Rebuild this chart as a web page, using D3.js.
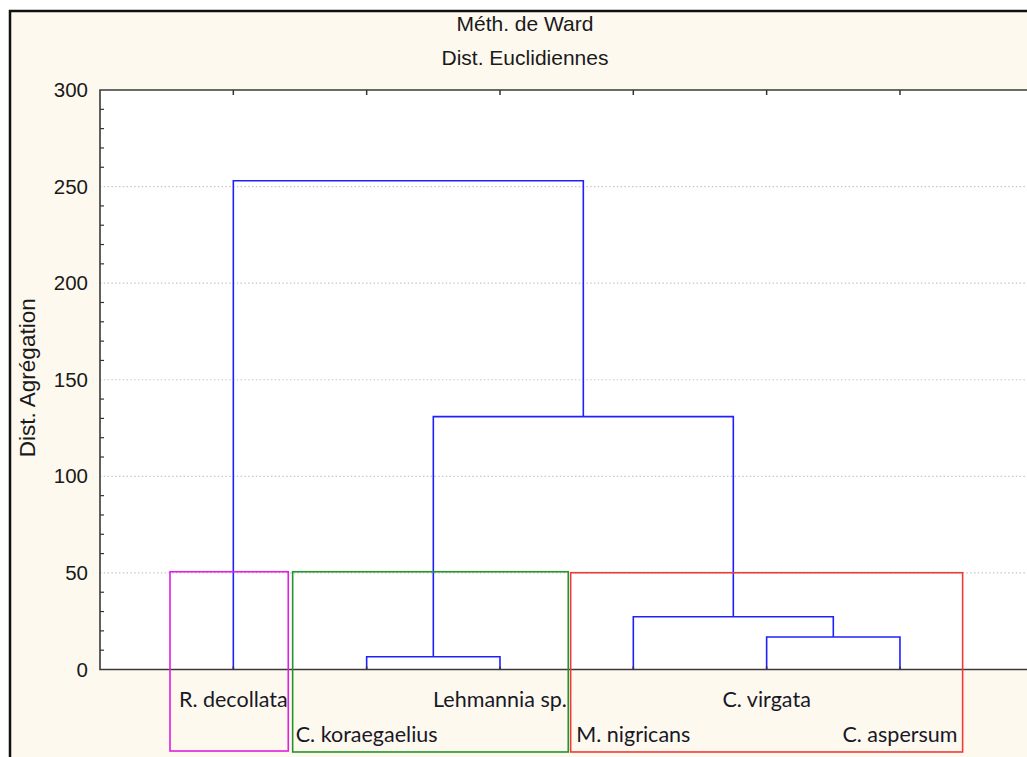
<!DOCTYPE html>
<html>
<head>
<meta charset="utf-8">
<script src="https://cdn.jsdelivr.net/npm/d3@7"></script>
<style>
  html, body { margin: 0; padding: 0; background: #ffffff; }
  svg { display: block; }
</style>
</head>
<body>
<svg id="chart" width="1027" height="757"></svg>
<script>
// Leaves in display order
const leafNames = ["R. decollata", "C. koraegaelius", "Lehmannia sp.", "M. nigricans", "C. virgata", "C. aspersum"];

// Ward linkage: [child A, child B, aggregation distance]; new clusters numbered from leafNames.length
const mergeA = [1, 4, 3, 6, 0];
const mergeB = [2, 5, 7, 8, 9];
const mergeHeight = [6.6, 16.8, 27.3, 130.9, 253.0];

// Cluster boxes cut at distance ~50: colour, span in leaf units, top distance
const boxColors = ["#e01fe0", "#24952a", "#f03a3a"];
const boxFrom = [0.525, 1.445, 3.53];
const boxTo = [1.412, 3.512, 6.47];
const boxTop = [50.6, 50.6, 50.1];
const boxBottom = [-42.2, -42.7, -42.7];

const yTicks = [0, 50, 100, 150, 200, 250, 300];
const titleLines = ["Méth. de Ward", "Dist. Euclidiennes"];
const yTitle = "Dist. Agrégation";

const svg = d3.select("#chart");
const W = 1027, H = 757;
const plot = { left: 100, top: 90, bottom: 669.5, right: 1033.3 };

const x = d3.scaleLinear().domain([0, leafNames.length + 1]).range([plot.left, plot.right]);
const y = d3.scaleLinear().domain([0, 300]).range([plot.bottom, plot.top]);

// Outer panel
svg.append("rect").attr("x", 10).attr("y", 10).attr("width", W).attr("height", H)
  .attr("fill", "#fef9ef");
svg.append("path").attr("d", `M10,${H} V11 H${W}`)
  .attr("fill", "none").attr("stroke", "#111").attr("stroke-width", 2.5);

// Plot area
svg.append("rect").attr("x", plot.left).attr("y", plot.top)
  .attr("width", plot.right - plot.left).attr("height", plot.bottom - plot.top)
  .attr("fill", "#ffffff");

// Dotted horizontal grid
svg.append("g").selectAll("line").data(yTicks.filter(d => d > 0 && d < 300)).join("line")
  .attr("x1", plot.left).attr("x2", plot.right)
  .attr("y1", d => y(d)).attr("y2", d => y(d))
  .attr("stroke", "#c4c4c4").attr("stroke-width", 1.2).attr("stroke-dasharray", "1.4,2.4");

// Left axis with labels and inner minor ticks
const yAxis = d3.axisLeft(y).tickValues(yTicks).tickSize(0).tickPadding(12);
const gy = svg.append("g").attr("transform", `translate(${plot.left},0)`).call(yAxis);
gy.select(".domain").remove();
gy.selectAll("text").attr("font-family", "'Liberation Sans', Arial, sans-serif")
  .attr("font-size", 20.5).attr("fill", "#1a1a1a");

const minor = d3.range(0, 301, 10).filter(v => v % 50 !== 0);
svg.append("g").selectAll("line").data(minor).join("line")
  .attr("x1", plot.left).attr("x2", plot.left + 4)
  .attr("y1", d => y(d)).attr("y2", d => y(d))
  .attr("stroke", "#333").attr("stroke-width", 1.2);

// Leaf ticks on top and bottom frame
const leafIdx = d3.range(leafNames.length);
svg.append("g").selectAll("line").data(leafIdx).join("line")
  .attr("x1", d => x(d + 1)).attr("x2", d => x(d + 1))
  .attr("y1", plot.top).attr("y2", plot.top + 5)
  .attr("stroke", "#333").attr("stroke-width", 1.5);

// Frame lines
svg.append("path")
  .attr("d", `M${plot.right},${plot.top} H${plot.left} V${plot.bottom} H${plot.right}`)
  .attr("fill", "none").attr("stroke", "#3a3a3a").attr("stroke-width", 1.6);

// Build dendrogram node positions
const nodeX = leafIdx.map(i => x(i + 1));
const nodeH = leafIdx.map(() => 0);
const links = [];
mergeA.forEach((a, k) => {
  const b = mergeB[k], h = mergeHeight[k];
  links.push({ x1: nodeX[a], h1: nodeH[a], x2: nodeX[b], h2: nodeH[b], h });
  nodeX.push((nodeX[a] + nodeX[b]) / 2);
  nodeH.push(h);
});

svg.append("g").selectAll("path").data(links).join("path")
  .attr("d", d => `M${d.x1},${y(d.h1)} V${y(d.h)} H${d.x2} V${y(d.h2)}`)
  .attr("fill", "none").attr("stroke", "#2020ff").attr("stroke-width", 1.6);

// Bottom leaf ticks
svg.append("g").selectAll("line").data(leafIdx).join("line")
  .attr("x1", d => x(d + 1)).attr("x2", d => x(d + 1))
  .attr("y1", plot.bottom).attr("y2", plot.bottom - 3)
  .attr("stroke", "#333").attr("stroke-width", 1.5);

// Cluster boxes
svg.append("g").selectAll("rect").data(boxColors).join("rect")
  .attr("x", (c, i) => x(boxFrom[i]))
  .attr("y", (c, i) => y(boxTop[i]))
  .attr("width", (c, i) => x(boxTo[i]) - x(boxFrom[i]))
  .attr("height", (c, i) => y(boxBottom[i]) - y(boxTop[i]))
  .attr("fill", "none").attr("stroke", c => c).attr("stroke-width", 1.6);

// Leaf labels, alternating rows
svg.append("g").selectAll("text").data(leafNames).join("text")
  .attr("x", (d, i) => x(i + 1))
  .attr("y", (d, i) => i % 2 === 0 ? 706.5 : 741.5)
  .attr("text-anchor", "middle")
  .attr("font-family", "Lato, 'Open Sans', sans-serif")
  .attr("font-size", 21.5)
  .attr("fill", "#181826")
  .text(d => d);

// Titles
svg.append("g").selectAll("text").data(titleLines).join("text")
  .attr("x", 525).attr("y", (d, i) => 31 + i * 34)
  .attr("text-anchor", "middle")
  .attr("font-family", "'Liberation Sans', Arial, sans-serif")
  .attr("font-size", 21)
  .attr("fill", "#1a1a1a")
  .text(d => d);

svg.append("text")
  .attr("transform", `translate(35,${(plot.top + plot.bottom) / 2 - 2}) rotate(-90)`)
  .attr("text-anchor", "middle")
  .attr("font-family", "'Liberation Sans', Arial, sans-serif")
  .attr("font-size", 22.5)
  .attr("fill", "#1a1a1a")
  .text(yTitle);
</script>
</body>
</html>
